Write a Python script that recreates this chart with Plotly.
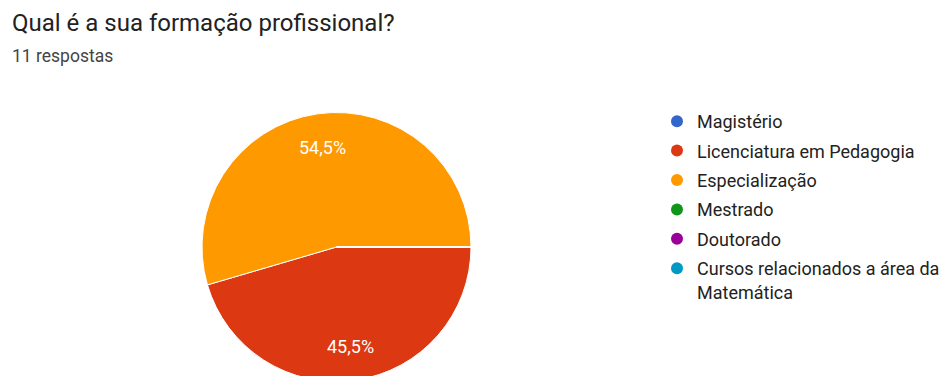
import math
import plotly.graph_objects as go

labels = ["Magistério", "Licenciatura em Pedagogia", "Especialização", "Mestrado",
          "Doutorado", "Cursos relacionados a área da<br>Matemática"]
values = [0, 5, 6, 0, 0, 0]
colors = ["#3366cc", "#dc3912", "#ff9900", "#109618", "#990099", "#0099c6"]

W, H = 942, 386
cx, cy, r = 336.5, 247, 134.5
rotation = 90

fig = go.Figure()
fig.add_trace(go.Pie(
    labels=labels, values=values, sort=False, direction="clockwise", rotation=rotation,
    marker=dict(colors=colors, line=dict(color="white", width=1)),
    textinfo="none", showlegend=False, hoverinfo="label+value+percent",
    domain=dict(x=[(cx - r) / W, (cx + r) / W], y=[(H - cy - r) / H, (H - cy + r) / H]),
))

# percentage labels placed at 0.75 of the radius, at each slice's mid-angle
total = sum(values)
cum = 0
annotations = []
for v in values:
    if v > 0:
        mid = rotation + 360 * (cum + v / 2) / total
        a = math.radians(mid)
        px = cx + 0.75 * r * math.sin(a)
        py = cy - 0.75 * r * math.cos(a)
        pct = f"{100 * v / total:.1f}".replace(".", ",") + "%"
        annotations.append(dict(text=pct, x=px / W, y=1 - py / H, xref="paper", yref="paper",
                                showarrow=False, xanchor="center", yanchor="middle",
                                font=dict(size=18, color="white")))
    cum += v

for lab, col in zip(labels, colors):
    fig.add_trace(go.Scatter(x=[None], y=[None], mode="markers", name=lab, legendgroup=lab,
                             marker=dict(symbol="circle", size=17, color=col)))

annotations += [
    dict(text="Qual é a sua formação profissional?", x=10 / W, y=1 - 23 / H, xref="paper", yref="paper",
         xanchor="left", yanchor="middle", showarrow=False, font=dict(size=24, color="#222222")),
    dict(text="11 respostas", x=10 / W, y=1 - 56 / H, xref="paper", yref="paper",
         xanchor="left", yanchor="middle", showarrow=False, font=dict(size=17.5, color="#444444")),
]

fig.update_layout(
    width=W, height=H, margin=dict(l=0, r=0, t=0, b=0, autoexpand=False),
    paper_bgcolor="white", plot_bgcolor="white",
    font=dict(family="Roboto", color="#212121"),
    xaxis=dict(visible=False), yaxis=dict(visible=False),
    legend=dict(x=657 / W, y=1 - 103 / H, xanchor="left", yanchor="top", valign="top",
                font=dict(size=18, color="#222222"), tracegroupgap=3, itemsizing="constant"),
    annotations=annotations,
)
fig.write_html("out.html")
